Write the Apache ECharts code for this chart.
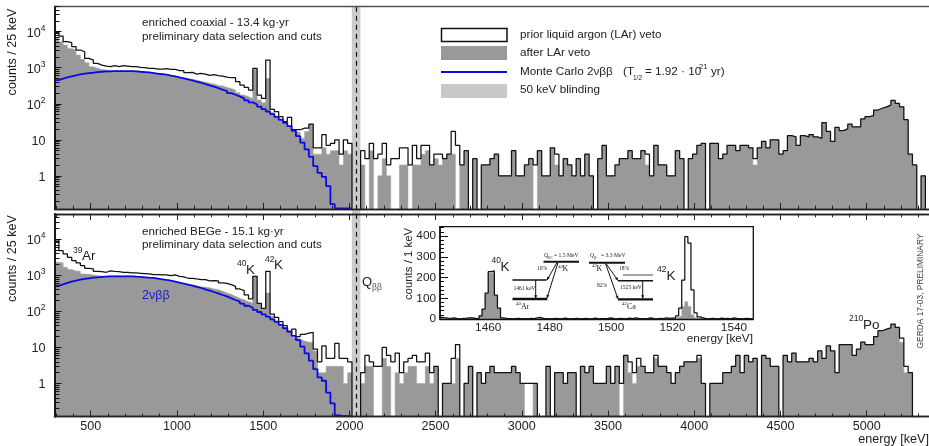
<!DOCTYPE html>
<html><head><meta charset="utf-8">
<style>html,body{margin:0;padding:0;background:#fff}#c{width:929px;height:446px}</style>
<script src="https://cdn.jsdelivr.net/npm/echarts@6/dist/echarts.min.js"></script>
</head><body><div id="c"></div>
<script>
// ---- data: counts per 25 keV bin, first bin starts at 290 keV ----
const binStart = 290, binWidth = 25;
const coaxPrior = [
9580,7580,5270,4950,3830,3100,2780,1816,1633,1320,
1186,1112,1066,1137,1066,1137,1112,1066,1066,1021,
1000,958,958,918,918,938,899,899,826,826,
726,741,667,697,667,612,639,600,587,550,
527,527,408,330,284,240,958,174,141,1633,
70,60,44,32,42,19,19,21,21,27,
6,6,14,7,8,10,4,10,8,0,0,
5,3,8,3,4,8,2,3,3,6,
6,2,7,3,7,7,2,4,4,3,
4,17,7,2,5,0,3,0,2,2,
3,4,1,1,1,5,1,1,2,3,
2,5,1,1,6,4,1,3,2,1,
3,1,4,1,0,3,7,1,1,2,
3,3,5,3,3,5,4,1,7,2,
2,1,1,5,3,0,3,4,7,8,
0,8,8,3,4,7,7,5,7,7,
6,3,6,9,6,10,10,4,5,13,
12,7,13,12,14,12,11,30,17,9,
22,18,20,27,23,23,38,44,47,67,
75,82,92,124,102,82,36,4,2,0,1];
const coaxAfter = [
6530,5270,4240,3440,3100,2260,1720,1370,1070,960,
900,860,840,826,810,810,810,810,810,790,
774,741,711,681,667,640,612,587,550,520,
495,474,454,420,400,370,352,323,310,284,
265,240,203,174,157,141,900,127,107,506,
57,44,34,30,24,17,16,11,17,27,
4,4,6,4,5,5,2,5,4,0,0,
2,0,5,0,1,3,1,0,0,2,
2,0,2,2,4,5,2,3,2,3,
4,4,0,2,5,0,3,0,2,2,
3,4,1,1,1,5,1,1,2,3,
0,5,1,1,6,2,1,3,2,1,
3,1,4,1,0,3,7,1,1,2,
3,3,5,3,3,5,2,1,7,2,
2,1,1,5,3,0,3,4,7,8,
0,8,8,3,4,7,7,5,7,7,
6,2,6,9,6,10,10,4,5,13,
12,7,13,12,14,12,11,30,17,9,
22,18,20,27,23,23,38,44,47,67,
75,82,92,124,102,82,36,4,2,0,1];
const coaxMC = [
454,495,539,575,612,653,681,711,726,759,
774,791,791,808,808,808,808,808,791,774,
759,741,711,681,667,640,600,574,538,506,
474,445,408,383,352,323,297,272,245,225,
198,178,160,141,124,109,96,83,71,61,
51.6,43.5,36,29.6,24,17.8,12.6,8.3,5.4,3.37,
1.86,1.21,0.94,0.52,0.163,0.125,0.125,0.125,0.125,0.125];
const begePrior = [
9580,4840,3920,3160,2550,2200,1857,1565,1500,1290,
1265,1212,1320,1290,1265,1212,1212,1161,1161,1136,
1112,1089,1045,1045,1022,1022,979,1022,938,899,
826,826,791,759,759,696,711,696,612,600,
550,495,417,375,284,220,938,167,121,1290,
84,68,52,40,27,32,20,23,25,26,
9,4,11,5,5,13,5,5,4,0,0,
2,6,4,3,3,10,6,4,7,2,
4,5,6,4,4,7,2,3,0,1,
1,5,12,0,1,3,0,2,1,2,
3,2,2,2,2,3,2,1,1,1,
1,0,0,3,0,2,2,1,2,2,
0,3,2,3,1,1,1,3,1,3,
1,6,4,2,5,3,2,2,6,3,
3,2,1,2,3,4,4,4,6,1,
0,1,1,1,2,2,3,6,2,6,
4,5,0,6,5,3,3,0,6,4,
7,4,4,4,5,4,8,5,11,8,
2,12,12,12,6,9,14,12,12,20,
29,32,35,44,36,18,3,2];
const begeAfter = [
2300,2200,1667,1436,1320,1290,1089,1067,1022,979,
938,938,958,958,938,938,938,938,938,899,
880,861,843,808,774,741,711,667,625,587,
562,537,516,474,474,454,417,398,365,323,
295,261,230,210,186,170,938,160,116,323,
73,55,40,34,27,19,17,15,14,14,
8,2,2,3,3,3,3,1,2,0,0,
1,3,3,0,0,5,3,0,2,1,
2,3,3,1,1,3,1,3,0,1,
1,1,5,0,1,3,0,2,1,2,
3,2,2,2,2,3,2,1,0,0,
1,0,0,3,0,2,2,1,2,2,
0,3,2,3,1,1,1,3,1,3,
0,6,2,1,3,3,2,2,5,3,
3,2,1,2,3,4,4,4,5,1,
0,1,1,1,2,2,3,6,2,6,
4,5,0,6,5,3,3,0,6,4,
7,4,4,4,5,4,8,5,11,8,
2,12,12,12,6,9,14,12,12,20,
29,32,35,44,36,14,2,2];
const begeMC = [
516,562,612,667,711,759,791,826,861,880,
899,918,938,938,938,938,938,938,918,899,
880,861,843,808,774,741,711,667,625,587,
550,516,474,445,408,375,344,316,284,261,
230,206,186,163,143,126,110,96,82,71,
60,51,42,34,28,21,16,10.5,6.8,4.3,
2.5,1.47,1.19,0.56,0.28,0.13,0.125,0.125,0.125,0.125];
// inset: counts per 1 keV, first bin starts at 1444 keV
const insetStart = 1444;
const insetPrior = [
8,6,4,3,5,2,1,3,4,6,5,3,2,
15,48,125,228,232,115,53,6,
3,2,1,2,3,1,2,1,3,2,6,8,3,2,1,1,3,2,1,4,
2,1,2,3,1,2,3,1,2,4,1,2,2,3,5,2,1,3,2,1,
4,2,6,3,1,2,3,5,2,1,3,2,6,3,4,5,
15,52,188,397,366,140,30,10,5,
2,1,3,2,1,4,2,3,1,5,3,2,1,3,2,1];
const insetAfter = [
6,4,2,2,4,1,1,2,3,4,3,2,1,
14,46,122,222,228,112,50,5,
2,1,1,1,2,1,1,1,2,1,4,6,2,1,1,1,2,1,1,3,
1,1,1,2,1,1,2,1,1,3,1,1,1,2,3,1,1,2,1,1,
2,1,4,2,1,1,2,3,1,1,2,1,4,2,3,3,
8,15,60,83,60,20,6,2,2,
1,1,2,1,1,2,1,2,1,3,2,1,1,2,1,1];
const energyTicks = [500,1000,1500,2000,2500,3000,3500,4000,4500,5000];
const energyMinor = [300,400,600,700,800,900,1100,1200,1300,1400,1600,1700,1800,1900,2100,2200,2300,2400,2600,2700,2800,2900,3100,3200,3300,3400,3600,3700,3800,3900,4100,4200,4300,4400,4600,4700,4800,4900,5100,5200,5300];
const decadeTicks = [1,10,100,1000,10000];
const decadeMinor = [0.2,0.3,0.4,0.5,0.6,0.7,0.8,0.9,2,3,4,5,6,7,8,9,20,30,40,50,60,70,80,90,200,300,400,500,600,700,800,900,2000,3000,4000,5000,6000,7000,8000,9000,20000,30000,40000,50000];
const insetLabels = [1460,1480,1500,1520,1540];
const blindingWindow = [2014,2064];
const qbb = 2039;

const LO = 0.12, HI = 50000, XMIN = 290, XMAX = 5361;
const EMPTY = 0.05;
const FONT = '"Liberation Sans", Arial, sans-serif';
const SERIF = '"Liberation Serif", serif';
const TXT = '#222';

function steps(vals, start, width, floor) {
  const out = vals.map((v, i) => [start + i * width, v > 0 ? v : floor]);
  out.push([start + vals.length * width, floor]);
  return out;
}
function hist(name, vals, xi, yi, kind, start, width, floor) {
  const s = { name, type: 'line', step: 'end', xAxisIndex: xi, yAxisIndex: yi, showSymbol: false, animation: false, silent: true,
    data: steps(vals, start, width, floor), clip: true, z: kind === 'fill' ? 3 : (kind === 'mc' ? 5 : 4) };
  if (kind === 'fill') { s.lineStyle = { width: 0.6, color: '#aaa' }; s.areaStyle = { color: '#999999', opacity: 1, origin: 'start' }; }
  if (kind === 'prior') { s.lineStyle = { width: 1.25, color: '#111' }; }
  if (kind === 'mc') { s.lineStyle = { width: 1.8, color: '#0a0ae0' }; s.data = vals.map((v, i) => [start + i * width, v]); }
  return s;
}
const hidden = { show: false };
const plain = v => String(v);
function xAx(gridIndex, position, vals, len, labels) {
  return { type: 'value', gridIndex, position, min: XMIN, max: XMAX, z: 10,
    splitLine: hidden, minorTick: hidden,
    axisLine: { show: true, onZero: false, lineStyle: { color: '#222', width: 1.4 } },
    axisTick: { show: !!vals, inside: true, length: len, customValues: vals || [], lineStyle: { color: '#222', width: 1 } },
    axisLabel: labels ? { show: true, customValues: energyTicks, formatter: plain, color: TXT, fontFamily: FONT, fontSize: 12.6, margin: 3 } : { show: false } };
}
function yAx(gridIndex, vals, len, labels) {
  return { type: 'log', logBase: 10, gridIndex, position: 'left', min: LO, max: HI, z: 10,
    splitLine: hidden, minorTick: hidden,
    axisLine: { show: true, onZero: false, lineStyle: { color: '#111', width: 1.6 } },
    axisTick: { show: true, inside: true, length: len, customValues: vals, lineStyle: { color: '#111', width: 1 } },
    axisLabel: labels ? { show: true, customValues: decadeTicks, margin: 9, fontFamily: FONT, color: TXT,
      formatter: v => { const e = Math.round(Math.log10(v)); return e < 2 ? '{b|' + Math.round(v) + '}' : '{b|10}{s|' + e + '}'; },
      rich: { b: { fontSize: 12.6, fontFamily: FONT, color: TXT, lineHeight: 16, verticalAlign: 'bottom' }, s: { fontSize: 8.5, fontFamily: FONT, color: TXT, lineHeight: 16, verticalAlign: 'top' } } } : { show: false } };
}
const gTop = { left: 54.5, top: 6.5, width: 874.5, height: 202.5 };
const gBot = { left: 54.5, top: 214, width: 874.5, height: 202.7 };
const gIn = { left: 440, top: 226.7, width: 313.3, height: 92.3, show: true, borderColor: '#111', borderWidth: 1.3, backgroundColor: '#fff', z: 6 };
const gAll = { left: 54.5, top: 6.5, width: 874.5, height: 410.2 };

const xAxis = [
  xAx(0, 'bottom', energyTicks, 6, false),
  xAx(0, 'bottom', energyMinor, 3.3, false),
  xAx(1, 'bottom', energyTicks, 6, true),
  xAx(1, 'bottom', energyMinor, 3.3, false),
  xAx(1, 'top', energyTicks, 6, false),
  xAx(1, 'top', energyMinor, 3.3, false),
  xAx(0, 'top', null, 0, false),
  { type: 'value', gridIndex: 2, min: 1444.3, max: 1546.3, z: 10, splitLine: hidden, position: 'bottom',
    axisLine: { show: true, onZero: false, lineStyle: { color: '#111', width: 1.3 } }, axisTick: hidden,
    axisLabel: { show: true, customValues: insetLabels, formatter: plain, color: TXT, fontFamily: FONT, fontSize: 11.8, margin: 3 } },
  { type: 'value', gridIndex: 3, min: XMIN, max: XMAX, show: false, splitLine: hidden }
];
xAxis[6].axisLine.lineStyle = { color: '#555', width: 1.4 };
const yAxis = [
  yAx(0, decadeTicks, 7, true), yAx(0, decadeMinor, 5, false),
  yAx(1, decadeTicks, 7, true), yAx(1, decadeMinor, 5, false),
  { type: 'value', gridIndex: 2, min: 0, max: 445, interval: 100, z: 10, position: 'left', splitLine: hidden,
    axisLine: { show: true, onZero: false, lineStyle: { color: '#111', width: 1.5 } },
    axisTick: { show: true, inside: true, length: 8, lineStyle: { color: '#111', width: 1 } },
    minorTick: { show: true, splitNumber: 5, length: 4, lineStyle: { color: '#111', width: 1 } },
    axisLabel: { show: true, color: TXT, fontFamily: FONT, fontSize: 11.8, margin: 4 } },
  { type: 'value', gridIndex: 3, min: 0, max: 1, show: false, splitLine: hidden }
];
const series = [
  { name: 'blinding', type: 'line', xAxisIndex: 8, yAxisIndex: 5, data: [[blindingWindow[0], 0], [blindingWindow[1], 0]], showSymbol: false, lineStyle: { width: 0 }, z: 1, silent: true, animation: false,
    markArea: { silent: true, itemStyle: { color: '#cbcbcb' }, data: [[{ xAxis: blindingWindow[0] }, { xAxis: blindingWindow[1] }]], animation: false },
    markLine: { silent: true, symbol: 'none', label: { show: false }, lineStyle: { color: '#111', type: [5, 4], width: 1.2 }, data: [{ xAxis: qbb }], animation: false } },
  hist('after coax', coaxAfter, 0, 0, 'fill', binStart, binWidth, EMPTY),
  hist('prior coax', coaxPrior, 0, 0, 'prior', binStart, binWidth, EMPTY),
  hist('MC coax', coaxMC, 0, 0, 'mc', binStart, binWidth, EMPTY),
  hist('after bege', begeAfter, 2, 2, 'fill', binStart, binWidth, EMPTY),
  hist('prior bege', begePrior, 2, 2, 'prior', binStart, binWidth, EMPTY),
  hist('MC bege', begeMC, 2, 2, 'mc', binStart, binWidth, EMPTY),
  Object.assign(hist('after inset', insetAfter, 7, 4, 'fill', insetStart, 1, 0), { z: 7 }),
  Object.assign(hist('prior inset', insetPrior, 7, 4, 'prior', insetStart, 1, 0), { z: 8 })
];

// ---- text and small diagrams ----
const G = [];
function T(text, x, y, size, opt) {
  opt = opt || {};
  G.push({ type: 'text', z: 20, rotation: opt.rot || 0, x, y, style: { text, x: 0, y: 0, font: (opt.italic ? 'italic ' : '') + size + 'px ' + (opt.family || FONT), fill: opt.color || TXT, align: opt.align || 'left', verticalAlign: 'middle', textAlign: opt.align || 'left', textVerticalAlign: 'middle' } });
}
function R(x, y, w, h, fill, stroke) {
  G.push({ type: 'rect', z: 20, shape: { x, y, width: w, height: h }, style: { fill, stroke: stroke || null, lineWidth: stroke ? 1.5 : 0 } });
}
function L(x1, y1, x2, y2, w, c) {
  G.push({ type: 'line', z: 20, shape: { x1, y1, x2, y2 }, style: { stroke: c || '#111', lineWidth: w } });
}
function A(x1, y1, x2, y2) {
  L(x1, y1, x2, y2, 1);
  const a = Math.atan2(y2 - y1, x2 - x1), s = 3.5, t = 0.45;
  G.push({ type: 'polygon', z: 20, shape: { points: [[x2, y2], [x2 - s * Math.cos(a - t), y2 - s * Math.sin(a - t)], [x2 - s * Math.cos(a + t), y2 - s * Math.sin(a + t)]] }, style: { fill: '#111' } });
}
const V = Math.PI / 2; // rotate so text reads bottom-to-top
const B = 11.7;
T('counts / 25 keV', 13, 52, 12.6, { rot: V, align: 'center' });
T('counts / 25 keV', 13, 258.5, 12.6, { rot: V, align: 'center' });
T('enriched coaxial - 13.4 kg\u00b7yr', 142, 23, B);
T('preliminary data selection and cuts', 142, 37, B);
T('enriched BEGe - 15.1 kg\u00b7yr', 142, 231.5, B);
T('preliminary data selection and cuts', 142, 245, B);
// legend
R(441.5, 28.5, 65.5, 13, '#fff', '#111');
R(441, 46, 66, 14, '#999999');
L(441, 72, 507, 72, 1.8, '#0a0ae0');
R(441, 84, 66, 14, '#c9c9c9');
T('prior liquid argon (LAr) veto', 520, 34.5, B);
T('after LAr veto', 520, 53, B);
T('Monte Carlo 2\u03bd\u03b2\u03b2', 520, 71.5, B);
T('(T', 623, 71.5, B);
T('1/2', 633, 78, 6.5);
T('= 1.92 \u00b7 10', 645, 71.5, B);
T('21', 699, 67, 7.5);
T('yr)', 711, 71.5, B);
T('50 keV blinding', 520, 90, B);
// peak labels
T('39', 73, 251, 8.5); T('Ar', 82, 256, 13.5);
T('40', 237, 264, 8.5); T('K', 246, 270, 13.5);
T('42', 265, 260, 8.5); T('K', 274, 265, 13.5);
T('2\u03bd\u03b2\u03b2', 142, 296, 12.5, { color: '#1a1ad0' });
T('Q', 362, 282, 13); T('\u03b2\u03b2', 372, 288, 8.5, { color: '#555' });
T('210', 849, 319, 8.5); T('Po', 863, 325, 13.5);
T('energy [keV]', 929, 439.5, 12.6, { align: 'right' });
T('GERDA 17-03, PRELIMINARY', 921, 291, 8.4, { rot: V, align: 'center', color: '#444' });
// inset labels
T('counts / 1 keV', 409, 264, 11.4, { rot: V, align: 'center' });
T('energy [keV]', 753, 338.5, 11.8, { align: 'right' });
T('40', 491.5, 261, 8.5); T('K', 500.5, 267, 13.5);
T('42', 657, 270, 8.5); T('K', 666.5, 276, 13.5);
// 40K scheme
L(543.5, 261.7, 579, 261.7, 2); L(512.5, 280, 546.7, 280, 1.5); L(512.5, 299, 547.3, 299, 2.3);
A(557, 262.5, 547, 280); A(558, 262.5, 547, 298); A(535.7, 280, 535.7, 298.5);
T('Q', 544, 256, 5.6, { family: SERIF }); T('EC', 548, 257.5, 4, { family: SERIF }); T('= 1.5 MeV', 554, 256, 5.6, { family: SERIF });
T('10%', 537, 268.5, 5.6, { family: SERIF });
T('40', 558, 266.5, 4.8, { family: SERIF }); T('K', 562.5, 269, 8, { family: SERIF });
T('1461 keV', 513.5, 289, 5.6, { family: SERIF });
T('40', 516, 304, 4.8, { family: SERIF }); T('Ar', 521, 306.5, 8, { family: SERIF });
// 42K scheme
L(589, 262.7, 625, 262.7, 2); L(623, 275, 653, 275, 1.5, '#888'); L(618, 280.7, 653, 280.7, 1.5); L(618, 299.3, 653, 299.3, 2.3);
A(606, 263.5, 618, 280.5); A(605.5, 263.5, 618, 299); A(642.7, 281, 642.7, 298.5);
T('Q', 590, 256, 5.6, { family: SERIF, italic: true }); T('\u03b2\u2212', 594, 257.5, 4, { family: SERIF }); T('= 3.3 MeV', 601, 256, 5.6, { family: SERIF });
T('42', 592, 266, 4.8, { family: SERIF }); T('K', 596.5, 268.5, 8, { family: SERIF });
T('18%', 619, 268.5, 5.6, { family: SERIF });
T('82%', 597, 286, 5.6, { family: SERIF });
T('1525 keV', 620, 288, 5.6, { family: SERIF });
T('42', 622, 304, 4.8, { family: SERIF }); T('Ca', 627, 306.5, 8, { family: SERIF });

const chart = echarts.init(document.getElementById('c'), null, { renderer: 'canvas' });
chart.setOption({ animation: false, backgroundColor: '#fff', grid: [gTop, gBot, gIn, gAll], xAxis, yAxis, series, graphic: G });
</script></body></html>
